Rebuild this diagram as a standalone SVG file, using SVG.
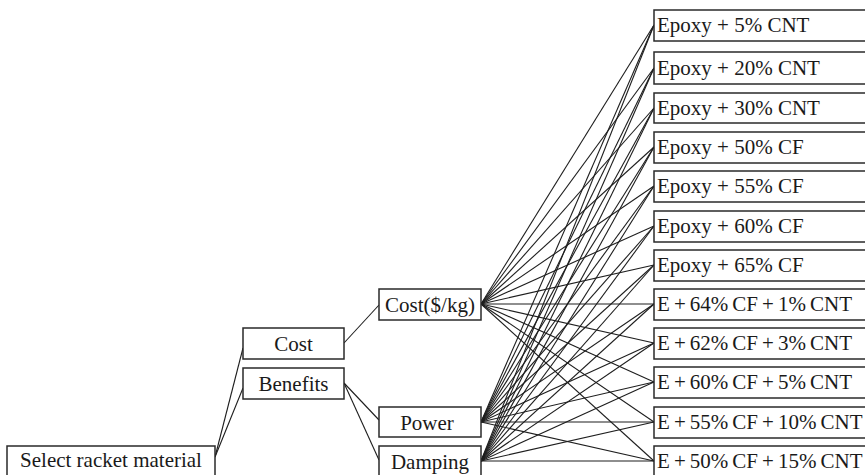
<svg xmlns="http://www.w3.org/2000/svg" width="865" height="475" viewBox="0 0 865 475">
  <style>
    .box { fill: #fff; stroke: #2a2a2a; stroke-width: 1.5; }
    .lbl { font-family: "Liberation Serif", "Times New Roman", serif; font-size: 21px; fill: #1a1a1a; }
    .mid { text-anchor: middle; }
    .tight { word-spacing: -1.2px; }
    .edge { stroke: #1e1e1e; stroke-width: 1.1; fill: none; }
  </style>
  <rect width="865" height="475" fill="#fff"/>

  <!-- connectors -->
  <g id="connectors" class="edge">
    <!-- goal to criteria -->
    <line x1="215" y1="457" x2="243" y2="348"/>
    <line x1="215" y1="457" x2="243" y2="388"/>
    <!-- criteria to sub-criteria -->
    <line x1="344" y1="343" x2="379" y2="305"/>
    <line x1="344" y1="383" x2="379" y2="420"/>
    <line x1="344" y1="383" x2="379" y2="460"/>
    <!-- Cost($/kg) to alternatives -->
    <line x1="481" y1="304" x2="654" y2="25"/>
    <line x1="481" y1="304" x2="654" y2="68"/>
    <line x1="481" y1="304" x2="654" y2="108"/>
    <line x1="481" y1="304" x2="654" y2="147"/>
    <line x1="481" y1="304" x2="654" y2="186"/>
    <line x1="481" y1="304" x2="654" y2="226"/>
    <line x1="481" y1="304" x2="654" y2="265"/>
    <line x1="481" y1="304" x2="654" y2="304"/>
    <line x1="481" y1="304" x2="654" y2="343"/>
    <line x1="481" y1="304" x2="654" y2="382"/>
    <line x1="481" y1="304" x2="654" y2="422"/>
    <line x1="481" y1="304" x2="654" y2="461"/>
    <!-- Power to alternatives -->
    <line x1="481" y1="422" x2="654" y2="25"/>
    <line x1="481" y1="422" x2="654" y2="68"/>
    <line x1="481" y1="422" x2="654" y2="108"/>
    <line x1="481" y1="422" x2="654" y2="147"/>
    <line x1="481" y1="422" x2="654" y2="186"/>
    <line x1="481" y1="422" x2="654" y2="226"/>
    <line x1="481" y1="422" x2="654" y2="265"/>
    <line x1="481" y1="422" x2="654" y2="304"/>
    <line x1="481" y1="422" x2="654" y2="343"/>
    <line x1="481" y1="422" x2="654" y2="382"/>
    <line x1="481" y1="422" x2="654" y2="422"/>
    <line x1="481" y1="422" x2="654" y2="461"/>
    <!-- Damping to alternatives -->
    <line x1="481" y1="461" x2="654" y2="25"/>
    <line x1="481" y1="461" x2="654" y2="68"/>
    <line x1="481" y1="461" x2="654" y2="108"/>
    <line x1="481" y1="461" x2="654" y2="147"/>
    <line x1="481" y1="461" x2="654" y2="186"/>
    <line x1="481" y1="461" x2="654" y2="226"/>
    <line x1="481" y1="461" x2="654" y2="265"/>
    <line x1="481" y1="461" x2="654" y2="304"/>
    <line x1="481" y1="461" x2="654" y2="343"/>
    <line x1="481" y1="461" x2="654" y2="382"/>
    <line x1="481" y1="461" x2="654" y2="422"/>
    <line x1="481" y1="461" x2="654" y2="461"/>
  </g>

  <!-- goal -->
  <g id="goal">
    <rect class="box" x="7" y="446" width="208" height="34"/>
    <text class="lbl mid" x="111" y="467">Select racket material</text>
  </g>

  <!-- criteria -->
  <g id="cost">
    <rect class="box" x="243" y="328" width="101" height="31"/>
    <text class="lbl mid" x="293.5" y="351">Cost</text>
  </g>
  <g id="benefits">
    <rect class="box" x="243" y="368" width="101" height="31"/>
    <text class="lbl mid" x="293.5" y="391">Benefits</text>
  </g>

  <!-- sub-criteria -->
  <g id="cost-per-kg">
    <rect class="box" x="379" y="289" width="102" height="31"/>
    <text class="lbl mid" x="430" y="312">Cost($/kg)</text>
  </g>
  <g id="power">
    <rect class="box" x="379" y="407" width="102" height="30"/>
    <text class="lbl mid" x="427" y="430">Power</text>
  </g>
  <g id="damping">
    <rect class="box" x="379" y="446" width="102" height="34"/>
    <text class="lbl mid" x="430" y="469">Damping</text>
  </g>

  <!-- alternatives -->
  <g id="alt-1">
    <rect class="box" x="654" y="10" width="220" height="31"/>
    <text class="lbl" x="657" y="32">Epoxy + 5% CNT</text>
  </g>
  <g id="alt-2">
    <rect class="box" x="654" y="52" width="220" height="32"/>
    <text class="lbl" x="657" y="75">Epoxy + 20% CNT</text>
  </g>
  <g id="alt-3">
    <rect class="box" x="654" y="93" width="220" height="30"/>
    <text class="lbl" x="657" y="115">Epoxy + 30% CNT</text>
  </g>
  <g id="alt-4">
    <rect class="box" x="654" y="132" width="220" height="31"/>
    <text class="lbl" x="657" y="154">Epoxy + 50% CF</text>
  </g>
  <g id="alt-5">
    <rect class="box" x="654" y="171" width="220" height="31"/>
    <text class="lbl" x="657" y="193">Epoxy + 55% CF</text>
  </g>
  <g id="alt-6">
    <rect class="box" x="654" y="211" width="220" height="31"/>
    <text class="lbl" x="657" y="233">Epoxy + 60% CF</text>
  </g>
  <g id="alt-7">
    <rect class="box" x="654" y="250" width="220" height="31"/>
    <text class="lbl" x="657" y="272">Epoxy + 65% CF</text>
  </g>
  <g id="alt-8">
    <rect class="box" x="654" y="289" width="220" height="31"/>
    <text class="lbl tight" x="657" y="311">E + 64% CF + 1% CNT</text>
  </g>
  <g id="alt-9">
    <rect class="box" x="654" y="328" width="220" height="31"/>
    <text class="lbl tight" x="657" y="350">E + 62% CF + 3% CNT</text>
  </g>
  <g id="alt-10">
    <rect class="box" x="654" y="367" width="220" height="31"/>
    <text class="lbl tight" x="657" y="389">E + 60% CF + 5% CNT</text>
  </g>
  <g id="alt-11">
    <rect class="box" x="654" y="407" width="220" height="31"/>
    <text class="lbl tight" x="657" y="429">E + 55% CF + 10% CNT</text>
  </g>
  <g id="alt-12">
    <rect class="box" x="654" y="446" width="220" height="34"/>
    <text class="lbl tight" x="657" y="468">E + 50% CF + 15% CNT</text>
  </g>
</svg>
